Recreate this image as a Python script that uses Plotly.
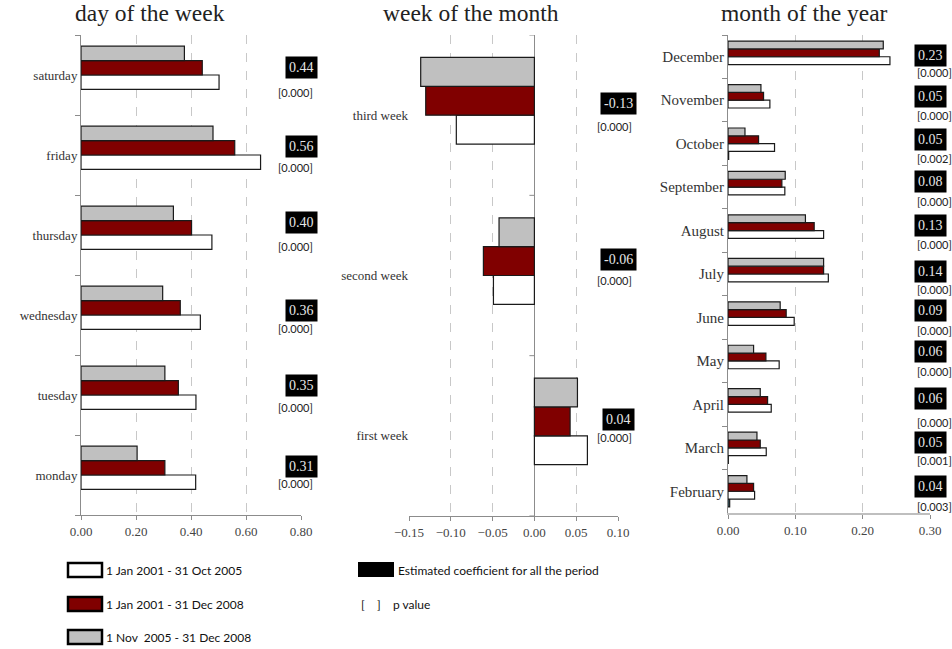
import plotly.graph_objects as go

W, H = 952, 649

# ---------------- data ----------------
series_names = ["1 Jan 2001 - 31 Oct 2005", "1 Jan 2001 - 31 Dec 2008", "1 Nov  2005 - 31 Dec 2008"]

days = ["monday", "tuesday", "wednesday", "thursday", "friday", "saturday"]
days_2001_2005 = [0.417, 0.418, 0.434, 0.476, 0.653, 0.502]
days_2001_2008 = [0.305, 0.354, 0.361, 0.402, 0.559, 0.441]
days_2005_2008 = [0.204, 0.305, 0.297, 0.336, 0.480, 0.376]
days_other = [None, None, None, None, None, None]
days_coef = ["0.31", "0.35", "0.36", "0.40", "0.56", "0.44"]
days_p = ["[0.000]", "[0.000]", "[0.000]", "[0.000]", "[0.000]", "[0.000]"]

weeks = ["first week", "second week", "third week"]
weeks_2001_2005 = [0.0634, -0.049, -0.0934]
weeks_2001_2008 = [0.0427, -0.061, -0.130]
weeks_2005_2008 = [0.0515, -0.0423, -0.136]
weeks_other = [None, None, None]
weeks_coef = ["0.04", "-0.06", "-0.13"]
weeks_p = ["[0.000]", "[0.000]", "[0.000]"]

months = ["February", "March", "April", "May", "June", "July", "August",
          "September", "October", "November", "December"]
months_2001_2005 = [0.0395, 0.0568, 0.0642, 0.076, 0.0983, 0.149, 0.142, 0.0844, 0.0691, 0.0622, 0.2405]
months_2001_2008 = [0.038, 0.0479, 0.0588, 0.0563, 0.0864, 0.142, 0.128, 0.080, 0.0454, 0.0528, 0.2247]
months_2005_2008 = [0.0281, 0.043, 0.0479, 0.038, 0.0775, 0.142, 0.115, 0.085, 0.0252, 0.0489, 0.2306]
months_other = [0.0025, 0.0005, None, None, None, None, None, None, 0.001, None, None]
months_coef = ["0.04", "0.05", "0.06", "0.06", "0.09", "0.14", "0.13", "0.08", "0.05", "0.05", "0.23"]
months_p = ["[0.003]", "[0.001]", "[0.000]", "[0.000]", "[0.000]", "[0.000]", "[0.000]",
            "[0.000]", "[0.002]", "[0.000]", "[0.000]"]

# ---------------- label offsets (pixels, layout only) ----------------
days_coef_shift = [9, 10, 5, 13, 9, 8]
days_p_shift = [-8, -12, -13, -11, -12, -17]
days_p_xshift = -6
weeks_coef_shift = [16, 16, 12]
weeks_p_shift = [-2, -5, -11]
weeks_p_xshift = -4
months_coef_shift = [5, 5, 6, 9, 7, 3, 5, 6, 4, 4, 1]
months_p_shift = [-15, -13, -18, -11, -13, -15, -14, -14, -15, -15, -16]
months_p_xshift = 4

# ---------------- styles ----------------
SERIF = "Liberation Serif"
SANS = "Lato"
fills = ["#ffffff", "#800000", "#c0c0c0"]
OTHER_FILL = "#4f8594"
BAR_LINE = "#1a1a1a"
GRID = "#c8c8c8"
AXIS = "#8c8c8c"


def px_x(p):
    return p / W


def px_y(p):
    return 1 - p / H


fig = go.Figure()

panels = [
    ("x", "y", days, [days_other, days_2001_2005, days_2001_2008, days_2005_2008]),
    ("x2", "y2", weeks, [weeks_other, weeks_2001_2005, weeks_2001_2008, weeks_2005_2008]),
    ("x3", "y3", months, [months_other, months_2001_2005, months_2001_2008, months_2005_2008]),
]

for xa, ya, cats, vals in panels:
    colors = [OTHER_FILL] + fills
    for i, v in enumerate(vals):
        fig.add_trace(go.Bar(
            x=v, y=cats, orientation="h", xaxis=xa, yaxis=ya,
            marker=dict(color=colors[i], line=dict(color=BAR_LINE, width=1.2)),
            showlegend=False, hoverinfo="skip",
        ))

tickfont = dict(family=SERIF, size=13, color="#444444")
common_x = dict(showgrid=True, gridcolor=GRID, griddash="dash", gridwidth=1,
                showline=True, linecolor=AXIS, linewidth=1, ticks="outside", ticklen=4,
                tickcolor=AXIS, tickformat=".2f", tickfont=tickfont, zeroline=False,
                fixedrange=True, automargin=False)
common_y = dict(type="category", showgrid=False, ticks="outside", tickson="boundaries",
                ticklen=5, tickcolor=AXIS, linecolor=AXIS, linewidth=1, fixedrange=True,
                automargin=False)

fig.update_layout(
    width=W, height=H,
    margin=dict(l=0, r=0, t=0, b=0, autoexpand=False),
    paper_bgcolor="white", plot_bgcolor="white",
    barmode="group", bargap=0.28, bargroupgap=0,
    showlegend=False,
    xaxis=dict(common_x, domain=[px_x(81), px_x(301)], range=[0, 0.8],
               tickvals=[0, 0.2, 0.4, 0.6, 0.8], anchor="y"),
    yaxis=dict(common_y, domain=[px_y(515), px_y(35)], categoryorder="array", categoryarray=days,
               range=[-0.5, len(days) - 0.5], showline=True, anchor="x",
               tickfont=dict(family=SERIF, size=13, color="#333333")),
    xaxis2=dict(common_x, domain=[px_x(409), px_x(618)], range=[-0.15, 0.10],
                tickvals=[-0.15, -0.10, -0.05, 0, 0.05, 0.10], anchor="y2",
                zeroline=True, zerolinecolor=AXIS, zerolinewidth=1),
    yaxis2=dict(common_y, domain=[px_y(516), px_y(35)], categoryorder="array", categoryarray=weeks,
                range=[-0.5, len(weeks) - 0.5], showline=False, ticks="", anchor="x2",
                tickfont=dict(family=SERIF, size=13, color="#333333")),
    xaxis3=dict(common_x, domain=[px_x(728), px_x(930)], range=[0, 0.3],
                tickvals=[0, 0.1, 0.2, 0.3], anchor="y3", linecolor="#bfbfbf", linewidth=2),
    yaxis3=dict(common_y, domain=[px_y(513), px_y(35)], categoryorder="array", categoryarray=months,
                range=[-0.5, len(months) - 0.5], showline=True, anchor="x3",
                tickfont=dict(family=SERIF, size=15, color="#333333")),
)

# boundary ticks on the zero line of the week panel
for k in range(len(weeks) + 1):
    fig.add_shape(type="line", xref="x2", yref="y2", xsizemode="pixel", xanchor=0,
                  x0=-5, x1=0, y0=k - 0.5, y1=k - 0.5, line=dict(color=AXIS, width=1))

# coefficient boxes and p-values
ann_sets = [
    ("x", "y", days, days_coef, days_p, days_coef_shift, days_p_shift, days_p_xshift),
    ("x2", "y2", weeks, weeks_coef, weeks_p, weeks_coef_shift, weeks_p_shift, weeks_p_xshift),
    ("x3", "y3", months, months_coef, months_p, months_coef_shift, months_p_shift, months_p_xshift),
]
for xa, ya, cats, coefs, ps, cshift, pshift, pxs in ann_sets:
    for c, cv, pv, cs, ps_ in zip(cats, coefs, ps, cshift, pshift):
        fig.add_annotation(xref=f"{xa} domain", yref=ya, x=1, y=c, yshift=cs,
                           text=cv, showarrow=False, bgcolor="black", borderpad=3,
                           font=dict(family=SERIF, size=14, color="#e6e6e6"),
                           xanchor="center", yanchor="middle")
        fig.add_annotation(xref=f"{xa} domain", yref=ya, x=1, y=c, yshift=ps_, xshift=pxs,
                           text=pv, showarrow=False,
                           font=dict(family=SANS, size=11, color="#222222"),
                           xanchor="center", yanchor="middle")

# panel titles
for title, cx in [("day of the week", 150), ("week of the month", 471), ("month of the year", 804)]:
    fig.add_annotation(xref="paper", yref="paper", x=px_x(cx), y=px_y(13), text=title,
                       showarrow=False, xanchor="center", yanchor="middle",
                       font=dict(family=SERIF, size=23.5, color="#222222"))

# legend (drawn)
legend_rows = [(570, fills[0]), (604, fills[1]), (637, fills[2])]
for (cy, col), name in zip(legend_rows, series_names):
    fig.add_shape(type="rect", xref="paper", yref="paper",
                  x0=px_x(68), x1=px_x(102), y0=px_y(cy - 7), y1=px_y(cy + 7),
                  fillcolor=col, line=dict(color="black", width=2.5))
    fig.add_annotation(xref="paper", yref="paper", x=px_x(104), y=px_y(cy), text=name,
                       showarrow=False, xanchor="left", yanchor="middle",
                       font=dict(family=SANS, size=12, color="#111111"))

fig.add_shape(type="rect", xref="paper", yref="paper",
              x0=px_x(358), x1=px_x(394), y0=px_y(577), y1=px_y(562),
              fillcolor="black", line=dict(color="black", width=0))
fig.add_annotation(xref="paper", yref="paper", x=px_x(396), y=px_y(570),
                   text="Estimated coefficient for all the period",
                   showarrow=False, xanchor="left", yanchor="middle",
                   font=dict(family=SANS, size=12, color="#111111"))
fig.add_annotation(xref="paper", yref="paper", x=px_x(359), y=px_y(604),
                   text="[&nbsp;&nbsp;&nbsp;&nbsp;]&nbsp;&nbsp;&nbsp;&nbsp;p value",
                   showarrow=False, xanchor="left", yanchor="middle",
                   font=dict(family=SANS, size=12, color="#111111"))

# remove the default 8px page margin so the figure fills the window exactly
fig.write_html("out.html",
               config={"displayModeBar": False, "staticPlot": True},
               post_script="document.body.style.margin='0';document.body.style.overflow='hidden';")
